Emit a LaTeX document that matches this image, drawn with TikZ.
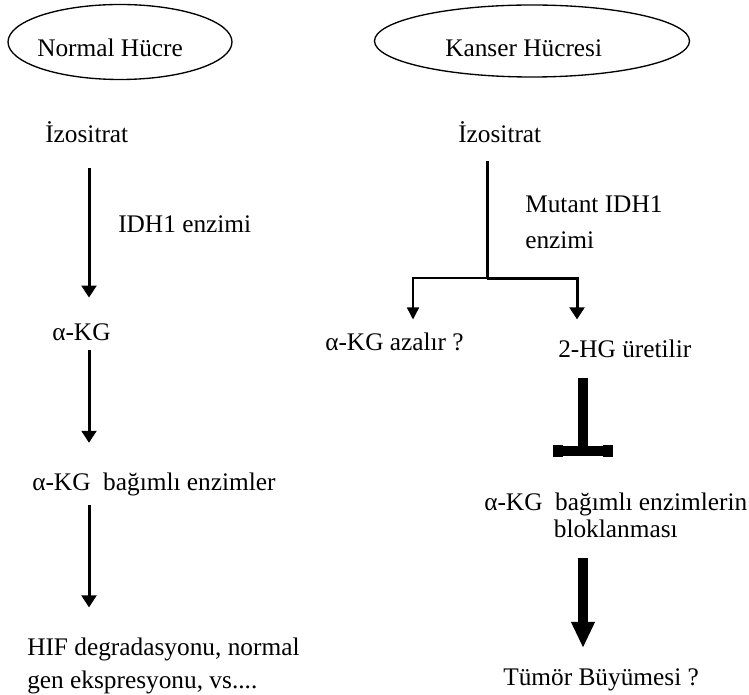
\documentclass[tikz,border=0pt]{standalone}
\usepackage{fontspec}
\setmainfont{Liberation Serif}
\usetikzlibrary{arrows.meta,shapes.geometric}

\tikzset{
  cell/.style={ellipse, draw, line width=1pt, inner sep=0pt},
  lbl/.style={anchor=base west, inner sep=0pt},
  arr/.style={line width=2.25pt, -{Triangle[width=11pt,length=9pt]}},
  thinarr/.style={line width=1.1pt, -{Triangle[width=9pt,length=9pt]}},
  fatarr/.style={line width=7.5pt, -{Triangle[width=16.5pt,length=19.5pt]}},
  blockbar/.style={line width=7.5pt, -{Bar[width=45pt,length=9pt]}}
}

\begin{document}
\begin{tikzpicture}[x=0.75pt, y=-0.75pt, font=\fontsize{19}{23}\selectfont]

\useasboundingbox (0,0) rectangle (749,695);

% cells
\node[cell, minimum width=168pt, minimum height=56.25pt] (normal) at (120,42) {};
\node[lbl] (normaltxt) at (37,57) {Normal Hücre};
\node[cell, minimum width=236.25pt, minimum height=54pt] (cancer) at (532,41) {};
\node[lbl] (cancertxt) at (445,57) {Kanser Hücresi};

% normal cell
\coordinate (laneL) at (89,0);
\node[lbl] (izo1) at (45,143) {İzositrat};
\node[lbl] (idh) at (118,233) {IDH1 enzimi};
\node[lbl] (akg1) at (52,340) {α-KG};
\node[lbl] (akg2) at (32,490) {α-KG~ bağımlı enzimler};
\node[lbl, align=left, font=\fontsize{19}{24.75}\selectfont] (hif) at (27,688)
  {HIF degradasyonu, normal\\gen ekspresyonu, vs....};

\draw[arr, shorten <=18pt, shorten >=19pt] (izo1.south -| laneL) -- (akg1.north -| laneL);
\draw[arr, shorten <=7pt, shorten >=22pt] (akg1.south -| laneL) -- (akg2.north -| laneL);
\draw[arr, shorten <=7pt, shorten >=22.3pt] (akg2.south -| laneL) -- (hif.north -| laneL);

% cancer cell
\coordinate (laneR) at (583,0);
\coordinate (fork) at (487,278);
\node[lbl] (izo2) at (458,143) {İzositrat};
\node[lbl, align=left, font=\fontsize{19}{27}\selectfont] (mut) at (525,248)
  {Mutant IDH1\\enzimi};
\node[lbl] (azal) at (325,350) {α-KG azalır ?};
\node[lbl] (hg) at (558,357) {2-HG üretilir};
\node[lbl, align=center, font=\fontsize{19}{20.25}\selectfont] (blok) at (484,537)
  {α-KG~ bağımlı enzimlerin\\bloklanması};
\node[lbl] (tumor) at (503,685) {Tümör Büyümesi ?};

\draw[line width=2.25pt, shorten <=12.75pt] (izo2.south -| fork) -- (fork);
\draw[thinarr, shorten >=9.5pt] (fork) -| ([xshift=66pt]azal.north west);
\draw[arr, shorten >=14.8pt] (fork) -| ([xshift=14.25pt]hg.north west);
\draw[blockbar, shorten <=15pt, shorten >=26.6pt] (hg.south -| laneR) -- (blok.north -| laneR);
\draw[fatarr, shorten <=15pt, shorten >=15pt] (blok.south -| laneR) -- (tumor.north -| laneR);

\end{tikzpicture}
\end{document}
